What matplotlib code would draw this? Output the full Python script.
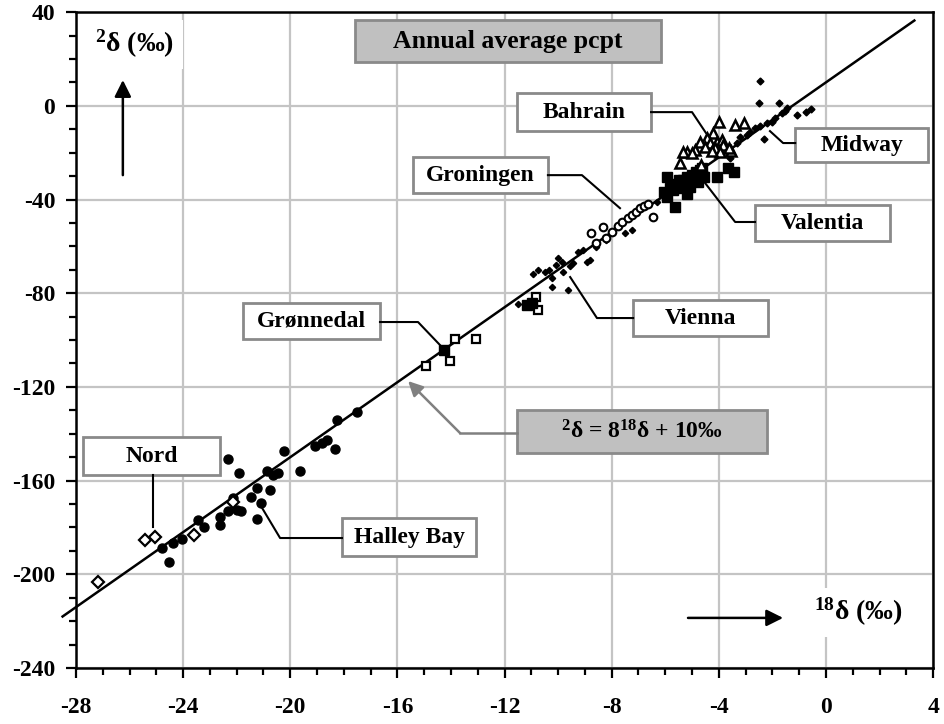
import numpy as np
import matplotlib.pyplot as plt
from matplotlib.patches import Rectangle
from matplotlib.ticker import MultipleLocator

plt.rcParams['font.family'] = 'Liberation Serif'
plt.rcParams['font.weight'] = 'bold'
plt.rcParams['axes.unicode_minus'] = False
plt.rcParams['mathtext.fontset'] = 'custom'
plt.rcParams['mathtext.rm'] = 'Liberation Serif:bold'
plt.rcParams['mathtext.it'] = 'Liberation Serif:bold'
plt.rcParams['mathtext.bf'] = 'Liberation Serif:bold'

# ---- station data (delta 18O, delta 2H in permil) ----
halley_x = [-24.80, -24.53, -24.39, -24.05, -23.43, -23.22, -22.62, -22.62, -22.31, -21.91,
            -22.31, -22.00, -21.85, -21.48, -21.25, -21.25, -21.10, -20.88, -20.76, -20.63,
            -20.45, -20.23, -19.64, -19.08, -18.83, -18.64, -18.33, -18.24, -17.52, -22.13]
halley_y = [-188.9, -194.6, -186.8, -184.9, -176.8, -179.9, -175.4, -179.0, -150.9, -156.9,
            -172.8, -172.5, -172.8, -166.9, -163.3, -176.5, -169.4, -155.8, -164.0, -157.6,
            -156.9, -147.4, -155.8, -145.2, -144.1, -142.7, -146.6, -134.1, -130.8, -167.6]

nord_x = [-27.17, -25.42, -25.05, -23.58, -22.13]
nord_y = [-203.1, -185.4, -184.2, -183.2, -169.0]

gronnedal_x = [-14.93, -14.03, -13.85, -13.06, -10.82, -10.74]
gronnedal_y = [-111.1, -109.0, -99.7, -99.6, -81.6, -87.2]
gronnedal_fill_x = [-14.25, -11.17, -10.98]
gronnedal_fill_y = [-104.3, -85.1, -84.2]

groningen_x = [-8.78, -8.32, -8.58, -8.21, -7.99, -7.76, -7.61, -7.39, -7.24, -7.09,
               -6.94, -6.79, -6.64, -6.44]
groningen_y = [-54.5, -51.6, -58.6, -56.5, -53.9, -51.3, -49.6, -47.9, -46.6, -45.4,
               -43.7, -42.8, -41.9, -47.4]

vienna_x = [-11.50, -10.94, -10.75, -10.50, -10.34, -10.23, -10.23, -10.08, -10.00, -9.85,
            -9.81, -9.63, -9.55, -9.44, -9.25, -9.07, -8.92, -8.81, -8.58, -8.21,
            -7.50, -7.24, -6.32]
vienna_y = [-84.6, -71.8, -70.0, -70.9, -70.1, -73.5, -77.4, -68.0, -65.0, -66.7,
            -71.0, -78.6, -68.4, -67.1, -62.4, -61.6, -66.7, -65.8, -60.3, -57.3,
            -54.3, -53.0, -41.0]

bahrain_x = [-3.98, -3.39, -3.05, -4.20, -4.45, -4.70, -4.32, -4.05, -3.89, -3.83,
             -4.14, -4.51, -4.88, -5.19, -5.34, -5.00, -5.44, -4.67, -3.55, -3.95,
             -4.26, -3.63]
bahrain_y = [-7.1, -8.2, -7.5, -11.8, -13.9, -15.4, -15.8, -15.4, -14.6, -16.8,
             -18.2, -17.5, -18.9, -19.6, -19.6, -20.3, -24.3, -25.4, -19.2, -19.6,
             -19.3, -18.2]

valentia_x = [-5.92, -5.47, -5.19, -5.01, -4.70, -4.57, -4.05, -3.64, -3.45, -5.72,
              -5.44, -5.07, -4.76, -5.19, -5.94, -5.63, -6.04, -5.82, -5.59, -5.33,
              -4.85, -4.63]
valentia_y = [-30.6, -31.7, -30.6, -29.6, -27.4, -30.6, -30.6, -26.7, -28.2, -36.0,
              -35.2, -34.6, -32.4, -37.5, -38.9, -43.1, -36.7, -35.0, -33.3, -31.7,
              -28.2, -26.5]

midway_x = [-2.46, -2.49, -1.74, -1.09, -2.33, -3.20, -2.83, -2.64, -2.20, -2.02,
            -1.89, -1.64, -1.45, -3.32, -3.60, -2.96, -1.52, -2.46, -0.75, -0.55]
midway_y = [10.7, 1.3, 1.3, -3.96, -14.2, -13.2, -11.1, -9.6, -7.4, -6.8,
            -5.4, -3.2, -1.1, -16.0, -22.4, -12.5, -2.1, -8.7, -2.5, -1.5]

# global meteoric water line: d2H = 8 * d18O + 10
gmwl_slope = 8
gmwl_intercept = 10
gmwl_range = [-28.5, 3.3]

fig = plt.figure(figsize=(9.45, 7.24), dpi=100)
ax = fig.add_axes([0.0804, 0.0773, 0.907, 0.906])

ax.set_xlim(-28, 4)
ax.set_ylim(-240, 40)
ax.xaxis.set_major_locator(MultipleLocator(4))
ax.xaxis.set_minor_locator(MultipleLocator(1))
ax.yaxis.set_major_locator(MultipleLocator(40))
ax.yaxis.set_minor_locator(MultipleLocator(10))
ax.grid(True, which='major', color='#c4c4c4', linewidth=1.6, zorder=0)
ax.set_axisbelow(True)
for s in ax.spines.values():
    s.set_linewidth(1.8)
ax.tick_params(which='major', direction='out', length=7, width=1.6, labelsize=17)
ax.tick_params(which='minor', direction='out', length=5, width=1.6)
ax.tick_params(axis='x', which='major', pad=14)
ax.tick_params(axis='y', which='major', pad=8)

# meteoric water line
lx = np.array(gmwl_range)
ax.plot(lx, gmwl_slope * lx + gmwl_intercept, color='black', lw=1.8, zorder=3, clip_on=False)

# stations
ax.plot(halley_x, halley_y, 'o', color='black', ms=6.5, zorder=4)
ax.plot(nord_x, nord_y, 'D', mfc='white', mec='black', mew=1.6, ms=6.5, zorder=5)
ax.plot(gronnedal_x, gronnedal_y, 's', mfc='white', mec='black', mew=1.6, ms=6, zorder=5)
ax.plot(gronnedal_fill_x, gronnedal_fill_y, 's', color='black', ms=6.5, zorder=5)
ax.plot(vienna_x, vienna_y, 'D', color='black', ms=3.2, zorder=4)
ax.plot(groningen_x, groningen_y, 'o', mfc='white', mec='black', mew=1.5, ms=5.5, zorder=5)
ax.plot(valentia_x, valentia_y, 's', color='black', ms=6.5, zorder=4)
ax.plot(bahrain_x, bahrain_y, '^', mfc='white', mec='black', mew=1.8, ms=7.5, zorder=5)
ax.plot(midway_x, midway_y, 'D', color='black', ms=3.5, zorder=4)


def label_box(x0, x1, y0, y1, text, face='white', size=17):
    ax.add_patch(Rectangle((x0, y0), x1 - x0, y1 - y0, facecolor=face,
                           edgecolor='#8a8a8a', lw=2, zorder=6))
    ax.text((x0 + x1) / 2, (y0 + y1) / 2, text, ha='center', va='center',
            fontsize=size, zorder=7)


def leader(xs, ys):
    ax.plot(xs, ys, color='black', lw=1.5, zorder=6)


label_box(-17.58, -6.16, 18.7, 36.6, 'Annual average pcpt', face='#c0c0c0', size=18.5)
label_box(-11.53, -6.53, -10.8, 5.4, 'Bahrain')
leader([-6.53, -5.0, -4.48], [-2.7, -2.7, -11.6])
label_box(-1.15, 3.81, -24.0, -9.5, 'Midway')
leader([-1.15, -1.6, -2.09], [-15.9, -15.9, -10.8])
label_box(-15.42, -10.38, -37.3, -21.9, 'Groningen')
leader([-10.38, -9.11, -7.69], [-29.6, -29.6, -43.7])
label_box(-2.65, 2.39, -57.7, -42.4, 'Valentia')
leader([-4.51, -3.39, -2.65], [-33.0, -49.6, -49.6])
label_box(-7.2, -2.16, -98.3, -82.9, 'Vienna')
leader([-9.55, -8.55, -7.2], [-73.1, -90.6, -90.6])
label_box(-21.76, -16.65, -99.6, -84.2, 'Grønnedal')
leader([-16.65, -15.23, -14.37], [-92.3, -92.3, -102.6])
label_box(-27.74, -22.62, -157.6, -141.4, 'Nord')
leader([-25.12, -25.12], [-157.6, -179.8])
label_box(-18.07, -13.06, -192.2, -176.0, 'Halley Bay')
leader([-21.05, -20.38, -18.07], [-171.7, -184.5, -184.5])

label_box(-11.53, -2.2, -148.2, -129.9,
          r'$\mathrm{^{2}}$δ = 8$\mathrm{^{18}}$δ + 10‰', face='#c0c0c0', size=17)
ax.plot([-11.53, -13.66], [-139.7, -139.7], color='#808080', lw=1.8, zorder=6)
ax.annotate('', xy=(-15.6, -117.5), xytext=(-13.66, -139.7),
            arrowprops=dict(arrowstyle='-|>', color='#808080', lw=1.8,
                            mutation_scale=22, shrinkA=0, shrinkB=0), zorder=6)

# axis captions with direction arrows
ax.text(-25.8, 26.3, r'$\mathrm{^{2}}$δ (‰)', ha='center', va='center', fontsize=20,
        zorder=2, bbox=dict(facecolor='white', edgecolor='none', pad=6))
ax.annotate('', xy=(-26.25, 11.0), xytext=(-26.25, -29.6),
            arrowprops=dict(arrowstyle='-|>', color='black', lw=1.8,
                            mutation_scale=25, shrinkA=0, shrinkB=0))
ax.text(1.2, -216.1, r'$\mathrm{^{18}}$δ (‰)', ha='center', va='center', fontsize=20,
        zorder=2, bbox=dict(facecolor='white', edgecolor='none', pad=6))
ax.annotate('', xy=(-1.6, -218.6), xytext=(-5.15, -218.6),
            arrowprops=dict(arrowstyle='-|>', color='black', lw=1.8,
                            mutation_scale=25, shrinkA=0, shrinkB=0))

fig.savefig('out.png', dpi=100)
